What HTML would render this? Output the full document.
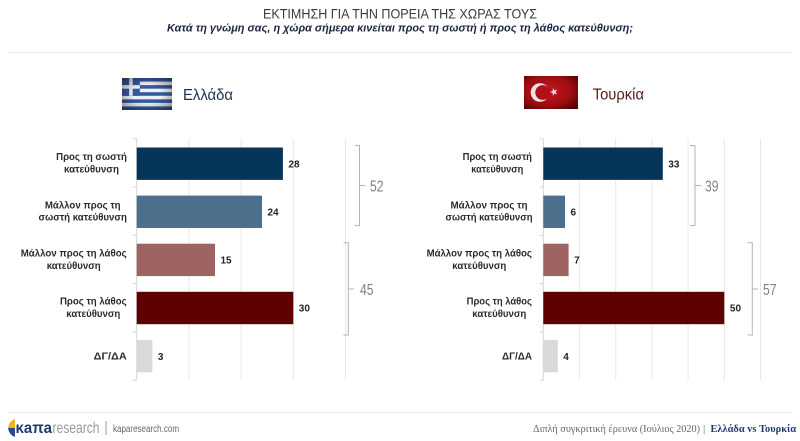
<!DOCTYPE html>
<html>
<head>
<meta charset="utf-8">
<style>
  html,body{margin:0;padding:0;background:#fff;}
  svg{display:block;}
  .cat{font-family:"Liberation Sans",sans-serif;font-weight:bold;font-size:10px;fill:#2b2b2b;}
  .val{font-family:"Liberation Sans",sans-serif;font-weight:bold;font-size:10px;fill:#222;}
  .tot{font-family:"Liberation Sans",sans-serif;font-size:16px;fill:#808080;}
</style>
</head>
<body>
<svg width="800" height="441" viewBox="0 0 800 441" xmlns="http://www.w3.org/2000/svg">
  <defs>
    <radialGradient id="grDark" cx="50%" cy="50%" r="70%">
      <stop offset="0.4" stop-color="#000" stop-opacity="0"/>
      <stop offset="1" stop-color="#000" stop-opacity="0.45"/>
    </radialGradient>
    <radialGradient id="trRed" cx="45%" cy="45%" r="70%">
      <stop offset="0" stop-color="#c8161e"/>
      <stop offset="0.6" stop-color="#a00d12"/>
      <stop offset="1" stop-color="#520404"/>
    </radialGradient>
  </defs>
  <rect width="800" height="441" fill="#fff"/>

  <!-- Header -->
  <text x="400" y="18.5" text-anchor="middle" textLength="274" lengthAdjust="spacingAndGlyphs" font-family="Liberation Sans, sans-serif" font-size="14" fill="#3a3a3a">ΕΚΤΙΜΗΣΗ ΓΙΑ ΤΗΝ ΠΟΡΕΙΑ ΤΗΣ ΧΩΡΑΣ ΤΟΥΣ</text>
  <text x="400" y="31.5" text-anchor="middle" textLength="466" lengthAdjust="spacingAndGlyphs" font-family="Liberation Sans, sans-serif" font-size="11" font-weight="bold" font-style="italic" fill="#1c2541">Κατά τη γνώμη σας, η χώρα σήμερα κινείται προς τη σωστή ή προς τη λάθος κατεύθυνση;</text>
  <line x1="9" y1="52.5" x2="791" y2="52.5" stroke="#ececec" stroke-width="1"/>

  <!-- Greek flag -->
  <g>
    <rect x="122" y="78" width="50" height="32" fill="#eef0f4"/>
    <rect x="122" y="78" width="50" height="3.56" fill="#35599f"/>
    <rect x="122" y="85.11" width="50" height="3.56" fill="#35599f"/>
    <rect x="122" y="92.22" width="50" height="3.56" fill="#35599f"/>
    <rect x="122" y="99.33" width="50" height="3.56" fill="#35599f"/>
    <rect x="122" y="106.44" width="50" height="3.56" fill="#35599f"/>
    <rect x="122" y="78" width="17.8" height="17.8" fill="#35599f"/>
    <rect x="122" y="85.11" width="17.8" height="3.56" fill="#eef0f4"/>
    <rect x="129.11" y="78" width="3.56" height="17.8" fill="#eef0f4"/>
    <rect x="122" y="78" width="50" height="32" fill="url(#grDark)"/>
  </g>
  <text x="183" y="100" textLength="50" lengthAdjust="spacingAndGlyphs" font-family="Liberation Sans, sans-serif" font-size="15.5" fill="#1f3050">Ελλάδα</text>

  <!-- Turkish flag -->
  <g>
    <rect x="524" y="76" width="54" height="33" fill="url(#trRed)"/>
    <circle cx="540" cy="92.5" r="9.3" fill="#e6e6e6"/>
    <circle cx="542.7" cy="92.5" r="7.4" fill="#b40f16"/>
    <polygon points="550,92 552.71,91.06 552.76,88.2 554.49,90.48 557.24,89.65 555.6,92 557.24,94.35 554.49,93.52 552.76,95.8 552.71,92.94" fill="#e6e6e6"/>
  </g>
  <text x="592.7" y="99.5" textLength="51.3" lengthAdjust="spacingAndGlyphs" font-family="Liberation Sans, sans-serif" font-size="15.5" fill="#5b1a1a">Τουρκία</text>

  <!-- LEFT CHART -->
  <g stroke="#e8e8e8" stroke-width="1">
    <line x1="188.9" y1="138.7" x2="188.9" y2="380.3"/>
    <line x1="241.1" y1="138.7" x2="241.1" y2="380.3"/>
    <line x1="293.3" y1="138.7" x2="293.3" y2="380.3"/>
    <line x1="345.5" y1="138.7" x2="345.5" y2="380.3"/>
  </g>
  <g stroke="#d6d6d6" stroke-width="1">
    <line x1="136.7" y1="138.7" x2="136.7" y2="380.3"/>
    <line x1="133" y1="138.7" x2="136.7" y2="138.7"/>
    <line x1="133" y1="187" x2="136.7" y2="187"/>
    <line x1="133" y1="235.3" x2="136.7" y2="235.3"/>
    <line x1="133" y1="283.6" x2="136.7" y2="283.6"/>
    <line x1="133" y1="331.9" x2="136.7" y2="331.9"/>
    <line x1="133" y1="380.3" x2="136.7" y2="380.3"/>
  </g>
  <rect x="136.7" y="147.5" width="146.2" height="32.4" fill="#06355a"/>
  <rect x="136.7" y="195.6" width="125.3" height="32.4" fill="#4e6f8c"/>
  <rect x="136.7" y="243.7" width="78.3" height="32.4" fill="#9e6464"/>
  <rect x="136.7" y="291.8" width="156.6" height="32.4" fill="#5c0000"/>
  <rect x="136.7" y="339.9" width="15.7" height="32.4" fill="#d9d9d9"/>

  <text class="val" x="288.4" y="167.4">28</text>
  <text class="val" x="267.5" y="215.5">24</text>
  <text class="val" x="220.5" y="263.6">15</text>
  <text class="val" x="298.8" y="311.7">30</text>
  <text class="val" x="157.9" y="359.8">3</text>

  <text class="cat" x="91.5" y="160.2" text-anchor="middle" textLength="70.7" lengthAdjust="spacingAndGlyphs">Προς τη σωστή</text>
  <text class="cat" x="91.5" y="172.6" text-anchor="middle" textLength="55" lengthAdjust="spacingAndGlyphs">κατεύθυνση</text>
  <text class="cat" x="82.7" y="208.3" text-anchor="middle" textLength="75.7" lengthAdjust="spacingAndGlyphs">Μάλλον προς τη</text>
  <text class="cat" x="82.7" y="220.7" text-anchor="middle" textLength="88.4" lengthAdjust="spacingAndGlyphs">σωστή κατεύθυνση</text>
  <text class="cat" x="73.7" y="256.4" text-anchor="middle" textLength="106" lengthAdjust="spacingAndGlyphs">Μάλλον προς τη λάθος</text>
  <text class="cat" x="73.7" y="268.8" text-anchor="middle" textLength="54" lengthAdjust="spacingAndGlyphs">κατεύθυνση</text>
  <text class="cat" x="93.3" y="304.5" text-anchor="middle" textLength="66.7" lengthAdjust="spacingAndGlyphs">Προς τη λάθος</text>
  <text class="cat" x="93.3" y="316.9" text-anchor="middle" textLength="54" lengthAdjust="spacingAndGlyphs">κατεύθυνση</text>
  <text class="cat" x="126.7" y="359.7" text-anchor="end" textLength="33" lengthAdjust="spacingAndGlyphs">ΔΓ/ΔΑ</text>

  <!-- left brackets -->
  <g fill="none" stroke="#b4b4b4" stroke-width="1">
    <polyline points="355,145.5 359.5,145.5 359.5,225.5 355,225.5"/>
    <line x1="359.5" y1="185.5" x2="365" y2="185.5"/>
    <polyline points="343.5,242.7 348.3,242.7 348.3,335 343.5,335"/>
    <line x1="348.3" y1="289" x2="354" y2="289"/>
  </g>
  <text class="tot" x="370" y="191.5" textLength="13.5" lengthAdjust="spacingAndGlyphs">52</text>
  <text class="tot" x="360" y="295" textLength="13.5" lengthAdjust="spacingAndGlyphs">45</text>

  <!-- RIGHT CHART -->
  <g stroke="#e8e8e8" stroke-width="1">
    <line x1="579.5" y1="138.7" x2="579.5" y2="380.3"/>
    <line x1="615.7" y1="138.7" x2="615.7" y2="380.3"/>
    <line x1="651.9" y1="138.7" x2="651.9" y2="380.3"/>
    <line x1="688.1" y1="138.7" x2="688.1" y2="380.3"/>
    <line x1="724.3" y1="138.7" x2="724.3" y2="380.3"/>
    <line x1="760.5" y1="138.7" x2="760.5" y2="380.3"/>
  </g>
  <g stroke="#d6d6d6" stroke-width="1">
    <line x1="543.3" y1="138.7" x2="543.3" y2="380.3"/>
    <line x1="539.6" y1="138.7" x2="543.3" y2="138.7"/>
    <line x1="539.6" y1="187" x2="543.3" y2="187"/>
    <line x1="539.6" y1="235.3" x2="543.3" y2="235.3"/>
    <line x1="539.6" y1="283.6" x2="543.3" y2="283.6"/>
    <line x1="539.6" y1="331.9" x2="543.3" y2="331.9"/>
    <line x1="539.6" y1="380.3" x2="543.3" y2="380.3"/>
  </g>
  <rect x="543.3" y="147.5" width="119.5" height="32.4" fill="#06355a"/>
  <rect x="543.3" y="195.6" width="21.7" height="32.4" fill="#4e6f8c"/>
  <rect x="543.3" y="243.7" width="25.3" height="32.4" fill="#9e6464"/>
  <rect x="543.3" y="291.8" width="181" height="32.4" fill="#5c0000"/>
  <rect x="543.3" y="339.9" width="14.5" height="32.4" fill="#d9d9d9"/>

  <text class="val" x="668.3" y="167.4">33</text>
  <text class="val" x="570.5" y="215.5">6</text>
  <text class="val" x="574.1" y="263.6">7</text>
  <text class="val" x="729.9" y="311.7">50</text>
  <text class="val" x="563.3" y="359.8">4</text>

  <text class="cat" x="497.3" y="160.2" text-anchor="middle" textLength="69.3" lengthAdjust="spacingAndGlyphs">Προς τη σωστή</text>
  <text class="cat" x="497.3" y="172.6" text-anchor="middle" textLength="52" lengthAdjust="spacingAndGlyphs">κατεύθυνση</text>
  <text class="cat" x="489" y="208.3" text-anchor="middle" textLength="77" lengthAdjust="spacingAndGlyphs">Μάλλον προς τη</text>
  <text class="cat" x="489" y="220.7" text-anchor="middle" textLength="87" lengthAdjust="spacingAndGlyphs">σωστή κατεύθυνση</text>
  <text class="cat" x="479.3" y="256.4" text-anchor="middle" textLength="105.3" lengthAdjust="spacingAndGlyphs">Μάλλον προς τη λάθος</text>
  <text class="cat" x="479.3" y="268.8" text-anchor="middle" textLength="54" lengthAdjust="spacingAndGlyphs">κατεύθυνση</text>
  <text class="cat" x="499.3" y="304.5" text-anchor="middle" textLength="65.3" lengthAdjust="spacingAndGlyphs">Προς τη λάθος</text>
  <text class="cat" x="499.3" y="316.9" text-anchor="middle" textLength="54" lengthAdjust="spacingAndGlyphs">κατεύθυνση</text>
  <text class="cat" x="532" y="359.7" text-anchor="end" textLength="30" lengthAdjust="spacingAndGlyphs">ΔΓ/ΔΑ</text>

  <!-- right brackets -->
  <g fill="none" stroke="#b4b4b4" stroke-width="1">
    <polyline points="690,145.5 695,145.5 695,225.5 690,225.5"/>
    <line x1="695" y1="185.5" x2="701" y2="185.5"/>
    <polyline points="747.5,242.7 752.3,242.7 752.3,335 747.5,335"/>
    <line x1="752.3" y1="289" x2="758" y2="289"/>
  </g>
  <text class="tot" x="705" y="191.5" textLength="13.5" lengthAdjust="spacingAndGlyphs">39</text>
  <text class="tot" x="763" y="295" textLength="13.5" lengthAdjust="spacingAndGlyphs">57</text>

  <!-- Footer -->
  <line x1="8" y1="412.5" x2="792" y2="412.5" stroke="#ececec" stroke-width="1"/>
  <path d="M15,419 Q9,421 8,428 L15,428 Z" fill="#f2b31a"/>
  <path d="M8,428 Q9,435 15,437 L15,428 Z" fill="#2a4a8a"/>
  <text x="15.5" y="433" textLength="36.5" lengthAdjust="spacingAndGlyphs" font-family="Liberation Sans, sans-serif" font-size="16" font-weight="bold" fill="#1f3a6e">κaπa</text>
  <text x="52.5" y="433" textLength="47" lengthAdjust="spacingAndGlyphs" font-family="Liberation Sans, sans-serif" font-size="16" fill="#9a9a9a">research</text>
  <line x1="106" y1="421" x2="106" y2="435" stroke="#999" stroke-width="1"/>
  <text x="113" y="432" textLength="66" lengthAdjust="spacingAndGlyphs" font-family="Liberation Sans, sans-serif" font-size="10" fill="#666">kaparesearch.com</text>

  <text x="533" y="432" textLength="167" lengthAdjust="spacingAndGlyphs" font-family="Liberation Serif, serif" font-size="11" fill="#666">Διπλή συγκριτική έρευνα (Ιούλιος 2020)</text>
  <text x="703" y="432" font-family="Liberation Serif, serif" font-size="11" fill="#666">|</text>
  <text x="710.5" y="432" textLength="85.5" lengthAdjust="spacingAndGlyphs" font-family="Liberation Serif, serif" font-size="11" font-weight="bold" fill="#1f3a6e">Ελλάδα vs Τουρκία</text>
</svg>
</body>
</html>
